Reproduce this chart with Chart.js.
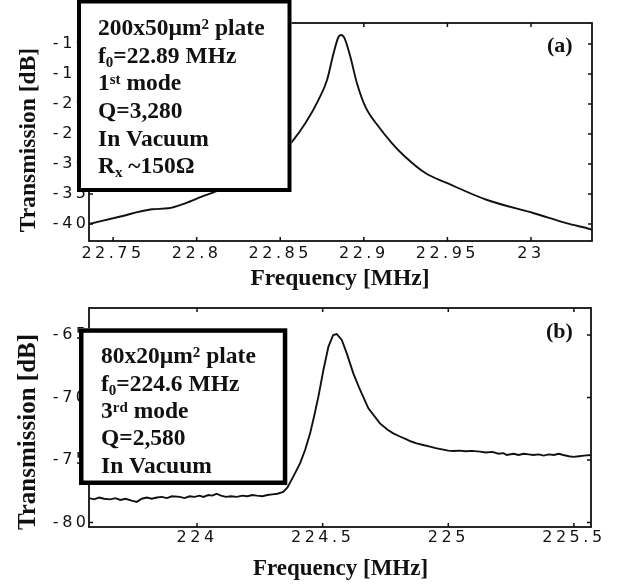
<!DOCTYPE html>
<html><head><meta charset="utf-8">
<script src="https://cdn.jsdelivr.net/npm/chart.js@4.4.1/dist/chart.umd.min.js"></script>
<style>html,body{margin:0;padding:0;background:#fff;} canvas{display:block;}</style>
</head><body>
<canvas id="c1" width="624" height="290"></canvas>
<canvas id="c2" width="624" height="295"></canvas>
<script>
// ---- Panel (a) data ----
const freqA = [22.7356,22.7532,22.7732,22.7831,22.7931,22.8031,22.8111,22.82,22.83,22.84,22.85,22.857,22.865,22.8729,22.878,22.8819,22.8849,22.8865,22.8885,22.8919,22.8959,22.9009,22.9089,22.9169,22.9244,22.9368,22.95,22.9738,23.0017,23.0217,23.036,23.0365];
const dbA   = [-40.0,-38.83,-37.55,-37.38,-36.55,-35.45,-34.62,-33.6,-32.4,-30.8,-28.5,-26.3,-23.2,-19.3,-16.0,-11.55,-8.8,-8.5,-9.05,-12.1,-16.55,-20.45,-23.8,-26.55,-28.7,-31.5,-33.2,-36.0,-38.2,-39.9,-40.9,-40.95];
const xTicksA = [22.75,22.8,22.85,22.9,22.95,23];
const xTickLabelsA = ['22.75','22.8','22.85','22.9','22.95','23'];
const yTicksA = [-40,-35,-30,-25,-20,-15,-10];
const yTickLabelsA = ['-40','-35','-30','-25','-20','-15','-10'];
const xTitleA = 'Frequency [MHz]';
const yTitleA = 'Transmission [dB]';
const panelA = '(a)';
const boxTextA = [
  [['200x50µm',0],['2',1],[' plate',0]],
  [['f',0],['0',-1],['=22.89 MHz',0]],
  [['1',0],['st',1],[' mode',0]],
  [['Q=3,280',0]],
  [['In Vacuum',0]],
  [['R',0],['x',-1],[' ~150Ω',0]]
];

// ---- Panel (b) data ----
const freqB = [223.570,223.590,223.610,223.630,223.654,223.675,223.695,223.715,223.740,223.760,223.780,223.800,223.820,223.840,223.860,223.880,223.900,223.932,223.950,223.970,223.990,224.010,224.025,224.045,224.060,224.078,224.095,224.115,224.135,224.158,224.180,224.200,224.220,224.238,224.260,224.280,224.300,224.320,224.343,224.360,224.383,224.410,224.430,224.450,224.466,224.483,224.503,224.523,224.542,224.556,224.576,224.596,224.622,224.649,224.682,224.728,224.760,224.781,224.805,224.834,224.850,224.874,224.900,224.927,224.950,224.975,225.000,225.020,225.045,225.070,225.095,225.126,225.150,225.175,225.200,225.220,225.232,225.260,225.280,225.300,225.320,225.338,225.360,225.380,225.400,225.420,225.440,225.458,225.480,225.498,225.520,225.540,225.551,225.568];
const dbB   = [-78.05,-78.15,-78.0,-78.1,-78.15,-78.05,-78.2,-78.1,-78.25,-78.35,-78.1,-78.0,-78.1,-78.0,-77.95,-78.05,-77.9,-77.95,-78.05,-77.9,-77.95,-77.85,-77.95,-77.8,-77.85,-77.7,-77.85,-77.95,-77.9,-77.95,-77.85,-77.9,-77.8,-77.85,-77.9,-77.8,-77.75,-77.7,-77.55,-77.2,-76.33,-75.27,-74.2,-72.87,-71.5,-69.93,-67.8,-65.93,-65.0,-64.92,-65.4,-66.47,-68.07,-69.4,-70.87,-72.07,-72.6,-72.87,-73.1,-73.35,-73.5,-73.67,-73.8,-73.93,-74.05,-74.15,-74.25,-74.28,-74.25,-74.3,-74.27,-74.33,-74.4,-74.35,-74.5,-74.45,-74.6,-74.5,-74.6,-74.5,-74.55,-74.6,-74.55,-74.65,-74.55,-74.6,-74.5,-74.6,-74.7,-74.75,-74.7,-74.65,-74.63,-74.6];
const xTicksB = [224,224.5,225,225.5];
const xTickLabelsB = ['224','224.5','225','225.5'];
const yTicksB = [-80,-75,-70,-65];
const yTickLabelsB = ['-80','-75','-70','-65'];
const xTitleB = 'Frequency [MHz]';
const yTitleB = 'Transmission [dB]';
const panelB = '(b)';
const boxTextB = [
  [['80x20µm',0],['2',1],[' plate',0]],
  [['f',0],['0',-1],['=224.6 MHz',0]],
  [['3',0],['rd',1],[' mode',0]],
  [['Q=2,580',0]],
  [['In Vacuum',0]]
];

const SERIF = '"Liberation Serif","Times New Roman",serif';
const TICKFONT = {family:'"DejaVu Sans", sans-serif', size:16};
const LS = '3.5px';

function rich(ctx, x, y, segs, fs){
  let cx = x;
  segs.forEach(([t,k])=>{
    const size = k===0 ? fs : 15;
    ctx.font = 'bold ' + size + 'px ' + SERIF;
    const dy = k===1 ? -6 : (k===-1 ? 4 : 0);
    ctx.fillText(t, cx, y+dy);
    cx += ctx.measureText(t).width;
  });
}

function decor(cfg){
  return {
    id:'decor',
    beforeUpdate(c){ c.ctx.letterSpacing = LS; },
    beforeDraw(c){ c.ctx.letterSpacing = LS; },
    afterDraw(c){
      const ctx = c.ctx, a = c.chartArea, xs = c.scales.x, ys = c.scales.y;
      ctx.save();
      ctx.letterSpacing = '0px';
      ctx.strokeStyle = '#111';
      ctx.lineWidth = 1.5;
      ctx.beginPath();
      xs.ticks.forEach(t=>{ const p = xs.getPixelForValue(t.value);
        ctx.moveTo(p,a.bottom); ctx.lineTo(p,a.bottom-4);
        ctx.moveTo(p,a.top); ctx.lineTo(p,a.top+4); });
      ys.ticks.forEach(t=>{ const p = ys.getPixelForValue(t.value);
        ctx.moveTo(a.left,p); ctx.lineTo(a.left+4,p);
        ctx.moveTo(a.right,p); ctx.lineTo(a.right-4,p); });
      ctx.stroke();
      ctx.lineWidth = 1.8;
      ctx.strokeRect(a.left, a.top, a.right-a.left, a.bottom-a.top);
      ctx.fillStyle = '#111';
      ctx.font = 'bold ' + cfg.xfs + 'px ' + SERIF;
      ctx.textAlign = 'center'; ctx.textBaseline = 'alphabetic';
      ctx.fillText(cfg.xTitle, cfg.xTitleX, cfg.xTitleY);
      ctx.save();
      ctx.translate(cfg.yTitleX, cfg.yTitleY);
      ctx.rotate(-Math.PI/2);
      ctx.font = 'bold ' + cfg.yfs + 'px ' + SERIF;
      ctx.fillText(cfg.yTitle, 0, 0);
      ctx.restore();
      ctx.textAlign = 'left';
      ctx.font = 'bold 22px ' + SERIF;
      ctx.fillText(cfg.panel, cfg.panelX, cfg.panelY);
      const b = cfg.box;
      ctx.fillStyle = '#fff';
      ctx.fillRect(b.x, b.y, b.w, b.h);
      ctx.lineWidth = b.lw; ctx.strokeStyle = '#000';
      ctx.strokeRect(b.x + b.lw/2, b.y + b.lw/2, b.w - b.lw, b.h - b.lw);
      ctx.fillStyle = '#111';
      cfg.lines.forEach((ln,i)=> rich(ctx, b.tx, b.ty + i*b.dy, ln, 23.5));
      ctx.restore();
    }
  };
}

function makeChart(id, freq, db, opts){
  return new Chart(document.getElementById(id), {
    type:'line',
    data:{ datasets:[{ data: freq.map((f,i)=>({x:f, y:db[i]})), borderColor:'#111', borderWidth:1.9,
      pointRadius:0, tension: opts.tension, cubicInterpolationMode: opts.cim, fill:false }]},
    options:{
      responsive:false, animation:false, devicePixelRatio:1,
      layout:{ padding:{ top:opts.padTop, right:opts.padRight, left:0, bottom:0 } },
      plugins:{ legend:{display:false}, tooltip:{enabled:false} },
      scales:{
        x:{ type:'linear', min:opts.xmin, max:opts.xmax,
            afterBuildTicks: s => { s.ticks = opts.xTicks.map(v=>({value:v})); },
            afterFit: s => { s.height = opts.xAxisH; },
            ticks:{ callback:(v,i)=>opts.xLabels[i], font:TICKFONT, color:'#111', padding:opts.xPad, maxRotation:0, autoSkip:false },
            grid:{ display:false, drawTicks:false }, border:{ display:false } },
        y:{ type:'linear', min:opts.ymin, max:opts.ymax,
            afterBuildTicks: s => { s.ticks = opts.yTicks.map(v=>({value:v})); },
            afterFit: s => { s.width = 89; },
            ticks:{ callback:(v,i)=>opts.yLabels[i], font:TICKFONT, color:'#111', padding:-0.5, autoSkip:false },
            grid:{ display:false, drawTicks:false }, border:{ display:false } }
      }
    },
    plugins:[ decor(opts.decor) ]
  });
}

makeChart('c1', freqA, dbA, {
  tension:0.4, cim:'monotone', padTop:23, padRight:32, xAxisH:49, xPad:3,
  xmin:22.7356, xmax:23.0365, ymin:-42.83, ymax:-6.5,
  xTicks:xTicksA, xLabels:xTickLabelsA, yTicks:yTicksA, yLabels:yTickLabelsA,
  decor:{ xTitle:xTitleA, xTitleX:340, xTitleY:285, xfs:23.5,
          yTitle:yTitleA, yTitleX:35, yTitleY:140, yfs:23.5,
          panel:panelA, panelX:547, panelY:52,
          box:{x:77, y:-0.5, w:214.5, h:192.5, lw:4, tx:98, ty:35, dy:27.65},
          lines:boxTextA }
});

makeChart('c2', freqB, dbB, {
  tension:0, cim:'default', padTop:18, padRight:33, xAxisH:58, xPad:0.8,
  xmin:223.57, xmax:225.568, ymin:-80.36, ymax:-62.84,
  xTicks:xTicksB, xLabels:xTickLabelsB, yTicks:yTicksB, yLabels:yTickLabelsB,
  decor:{ xTitle:xTitleB, xTitleX:340.5, xTitleY:285, xfs:23,
          yTitle:yTitleB, yTitleX:35, yTitleY:142, yfs:25,
          panel:panelB, panelX:546, panelY:48,
          box:{x:79, y:38.3, w:208.3, h:156.7, lw:4.5, tx:101, ty:73.3, dy:27.35},
          lines:boxTextB }
});
</script>
</body></html>
